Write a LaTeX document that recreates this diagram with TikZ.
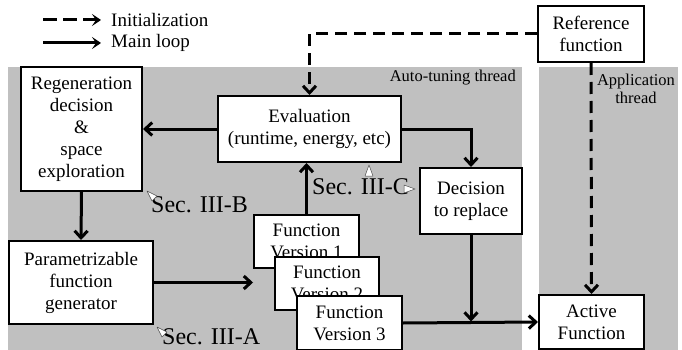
\documentclass[tikz,border=0pt]{standalone}
\usepackage{fontspec}
\setmainfont{Liberation Serif}
\usetikzlibrary{arrows.meta}
\definecolor{bggray}{RGB}{192,192,192}
\begin{document}
\begin{tikzpicture}[x=1pt,y=-1pt,
  box/.style={draw, line width=2pt, fill=white, align=center, inner sep=0pt,
    font=\fontsize{19}{22}\selectfont},
  arr/.style={line width=3pt, -{Straight Barb[length=7pt,width=13pt]}},
  dsh/.style={arr, dash pattern=on 12pt off 7pt},
  legarr/.style={line width=3pt, -{Stealth[length=9pt,width=12pt,inset=4pt]}},
  lbl/.style={inner sep=0pt, font=\fontsize{19}{22}\selectfont},
  sec/.style={inner sep=0pt, anchor=west, font=\fontsize{24}{28}\selectfont},
  thr/.style={inner sep=0pt, align=center, font=\fontsize{16.5}{18.5}\selectfont},
  cur/.style={fill=white, draw=black!70, line width=0.5pt, line join=round}]
\useasboundingbox (0,0) rectangle (682,350);
% backgrounds
\fill[bggray] (8,67) rectangle (522,351);
\fill[bggray] (539,67) rectangle (678,351);
\node[thr, anchor=east] (att) at (516,78) {Auto-tuning thread};
\node[thr] (apt) at (636,89) {Application\\thread};
% legend
\coordinate (l1a) at (43,20); \coordinate (l1b) at (101,20);
\coordinate (l2a) at (43,43); \coordinate (l2b) at (101,43);
\draw[legarr, dash pattern=on 14pt off 6pt] (l1a) -- (l1b);
\draw[legarr] (l2a) -- (l2b);
\node[lbl, anchor=west] (lt1) at (111,20) {Initialization};
\node[lbl, anchor=west] (lt2) at (111,43) {Main loop};
% boxes
\node[box, minimum width=121pt, minimum height=124pt] (regen) at (81.5,129)
  {Regeneration\\decision\\\&\\space\\exploration};
\node[box, minimum width=183pt, minimum height=66pt] (eval) at (309.5,129)
  {Evaluation\\(runtime, energy, etc)};
\node[box, minimum width=106pt, minimum height=56pt] (ref) at (591,34)
  {Reference\\function};
\node[box, minimum width=105pt, minimum height=54pt] (act) at (591.5,322)
  {Active\\Function};
\node[box, minimum width=102pt, minimum height=66pt] (dec) at (471,201)
  {Decision\\to replace};
\node[box, minimum width=144pt, minimum height=83pt] (param) at (81,282.5)
  {Parametrizable\\function\\generator};
\node[box, minimum width=105pt, minimum height=53pt] (fv1) at (306.5,241.5)
  {Function\\Version 1};
\node[box, minimum width=104pt, minimum height=53pt] (fv2) at (327,283.5)
  {Function\\Version 2};
\node[box, minimum width=105pt, minimum height=54pt] (fv3) at (349.5,323)
  {Function\\Version 3};
% connectors
\draw[dsh] (ref.west) -| (eval.north);
\draw[dsh] (ref.south) -- (act.north);
\draw[arr] (eval.west) -- (regen.east);
\draw[arr] (regen.south) -- (param.north);
\coordinate (stk) at (253,282.5);
\draw[arr] (param.east) -- (stk);
\draw[arr] (fv1.north) -- (fv1.north |- eval.south);
\draw[arr] (eval.east) -| (dec.north);
\draw[arr] (fv3.east) -- (act.west);
\draw[arr] (dec.south) -- ([yshift=1.5pt]dec.south |- fv3.east);
% section labels
\node[sec] (sb) at (151,205) {Sec. III-B};
\node[sec] (sa) at (162,337) {Sec. III-A};
\node[sec] (sc) at (312,187) {Sec. III-C};
% cursor marks
\draw[cur] (147,191) -- (157,196) -- (152,201) -- cycle;
\draw[cur] (157,327) -- (167,332) -- (162,337) -- cycle;
\draw[cur] (369,165) -- (373,176) -- (365,176) -- cycle;
\draw[cur] (415,189) -- (404,193) -- (404,185) -- cycle;
\end{tikzpicture}
\end{document}
